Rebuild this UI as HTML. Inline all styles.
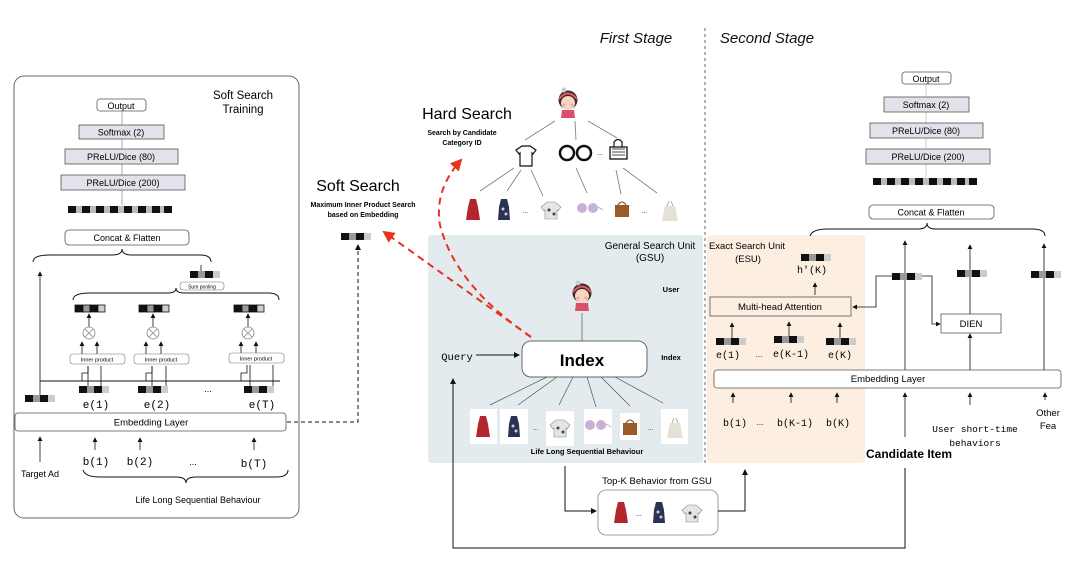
<!DOCTYPE html>
<html><head><meta charset="utf-8"><style>
html,body{margin:0;padding:0;background:#fff;}
svg{display:block;font-family:"Liberation Sans",sans-serif;}
.m{font-family:"Liberation Mono",monospace;}
</style></head><body>
<svg width="1080" height="570" viewBox="0 0 1080 570" xmlns="http://www.w3.org/2000/svg">
<defs>
<marker id="ah" markerWidth="6" markerHeight="6" refX="5" refY="3" orient="auto"><path d="M0,0 L6,3 L0,6 z" fill="#111"/></marker>
<marker id="ar" markerWidth="6" markerHeight="6" refX="5" refY="3" orient="auto"><path d="M0,0 L6,3 L0,6 z" fill="#e8321e"/></marker>
<g id="vec"><rect x="0" y="0" width="8" height="7" fill="#111"/><rect x="8" y="0" width="7" height="7" fill="#999"/><rect x="15" y="0" width="8" height="7" fill="#111"/><rect x="23" y="0" width="7" height="7" fill="#ccc"/></g>
<g id="lvec"><rect x="0" y="0" width="104" height="7" fill="#bbb"/><rect x="0" y="0" width="8" height="7" fill="#111"/><rect x="14" y="0" width="8" height="7" fill="#111"/><rect x="28" y="0" width="8" height="7" fill="#111"/><rect x="42" y="0" width="8" height="7" fill="#111"/><rect x="56" y="0" width="8" height="7" fill="#111"/><rect x="70" y="0" width="8" height="7" fill="#111"/><rect x="84" y="0" width="8" height="7" fill="#111"/><rect x="96" y="0" width="8" height="7" fill="#111"/></g>
<g id="girl"><circle cx="0" cy="-2" r="9.5" fill="#3b2a2a"/><circle cx="0" cy="1" r="7" fill="#f6d6c0"/><path d="M-9,-3 Q0,-14 9,-3" stroke="#e25a6a" stroke-width="2" fill="none"/><circle cx="-4" cy="-12" r="2.5" fill="#ccc"/><path d="M-7,16 L-6,8 L6,8 L7,16 z" fill="#d8506a"/><circle cx="-4" cy="3" r="1.5" fill="#f5a0a8"/><circle cx="4" cy="3" r="1.5" fill="#f5a0a8"/></g>
<g id="dress1"><path d="M-3,-10 L3,-10 L5,-2 L7,11 L-7,11 L-5,-2 z" fill="#b3262e"/></g>
<g id="dress2"><path d="M-3,-10 L3,-10 L5,-2 L6,11 L-6,11 L-5,-2 z" fill="#2a3355"/><circle cx="-1" cy="0" r="1.5" fill="#ccd"/><circle cx="2" cy="5" r="1.5" fill="#ccd"/></g>
<g id="shirt"><path d="M-4,-8 L4,-8 L10,-3 L7,1 L6,0 L6,9 L-6,9 L-6,0 L-7,1 L-10,-3 z" fill="#e4e6e0" stroke="#889" stroke-width="0.6"/><circle cx="-2" cy="0" r="1.5" fill="#345"/><circle cx="3" cy="4" r="1.5" fill="#345"/></g>
<g id="glass"><circle cx="-5" cy="0" r="5" fill="#c9b0d6"/><circle cx="6" cy="0" r="5" fill="#c9b0d6"/><path d="M11,-1 L16,2" stroke="#aaa"/></g>
<g id="bag"><rect x="-7" y="-4" width="14" height="12" fill="#9a5a2a"/><path d="M-4,-4 Q0,-10 4,-4" stroke="#6a3a1a" fill="none"/></g>
<g id="sack"><path d="M-5,-6 L5,-6 L8,9 L-8,9 z" fill="#e5e0d8"/><path d="M-3,-6 L-1,-11 M3,-6 L1,-11" stroke="#aaa"/></g>
</defs>

<text x="636" y="43" font-size="15" font-style="italic" text-anchor="middle" fill="#111">First Stage</text>
<text x="767" y="43" font-size="15" font-style="italic" text-anchor="middle" fill="#111">Second Stage</text>
<line x1="705" y1="28" x2="705" y2="464" stroke="#666" stroke-dasharray="3,3" stroke-width="1"/>

<!-- LEFT PANEL -->
<rect x="14" y="76" width="285" height="442" rx="10" fill="none" stroke="#666" stroke-width="1"/>
<text x="243" y="99" font-size="11.5" text-anchor="middle">Soft Search</text>
<text x="243" y="113" font-size="11.5" text-anchor="middle">Training</text>
<line x1="122" y1="110" x2="122" y2="205" stroke="#aaa"/>
<rect x="97" y="99" width="49" height="12" rx="3" fill="#fff" stroke="#555" stroke-width="0.8"/>
<text x="121" y="109" font-size="9" text-anchor="middle">Output</text>
<rect x="79" y="125" width="85" height="14" fill="#e2e2ea" stroke="#555" stroke-width="0.8"/>
<text x="121" y="135.5" font-size="9" text-anchor="middle">Softmax (2)</text>
<rect x="65" y="149" width="113" height="15" fill="#e2e2ea" stroke="#555" stroke-width="0.8"/>
<text x="121" y="160" font-size="9" text-anchor="middle">PReLU/Dice (80)</text>
<rect x="61" y="175" width="124" height="15" fill="#e2e2ea" stroke="#555" stroke-width="0.8"/>
<text x="123" y="186" font-size="9" text-anchor="middle">PReLU/Dice (200)</text>
<use href="#lvec" x="68" y="206"/>
<rect x="65" y="230" width="124" height="15" rx="4" fill="#fff" stroke="#555" stroke-width="0.8"/>
<text x="127" y="241" font-size="9" text-anchor="middle">Concat &amp; Flatten</text>
<path d="M33,262 Q33,255 50,255 L112,255 Q122,255 122,249 Q122,255 132,255 L200,255 Q211,255 211,262" fill="none" stroke="#111" stroke-width="1"/>
<line x1="40" y1="400" x2="40" y2="272" stroke="#111" stroke-width="0.8" marker-end="url(#ah)"/>
<use href="#vec" x="190" y="271"/>
<line x1="201" y1="271" x2="201" y2="265" stroke="#111" stroke-width="0.8"/>
<rect x="180" y="282" width="44" height="8" rx="3" fill="#fff" stroke="#777" stroke-width="0.6"/>
<text x="202" y="288.5" font-size="5" text-anchor="middle">Sum pooling</text>
<path d="M73,300 Q73,293 90,293 L168,293 Q176,293 176,288 Q176,293 184,293 L268,293 Q279,293 279,300" fill="none" stroke="#111" stroke-width="1"/>
<g stroke="#111" stroke-width="0.8" fill="none">
 <use href="#vec" x="75" y="305"/><use href="#vec" x="139" y="305"/><use href="#vec" x="234" y="305"/>
 <line x1="89" y1="327" x2="89" y2="314" marker-end="url(#ah)"/><line x1="153" y1="327" x2="153" y2="314" marker-end="url(#ah)"/><line x1="248" y1="327" x2="248" y2="314" marker-end="url(#ah)"/>
 <circle cx="89" cy="333" r="6" stroke="#888"/><path d="M85,329 L93,337 M93,329 L85,337" stroke="#888"/>
 <circle cx="153" cy="333" r="6" stroke="#888"/><path d="M149,329 L157,337 M157,329 L149,337" stroke="#888"/>
 <circle cx="248" cy="333" r="6" stroke="#888"/><path d="M244,329 L252,337 M252,329 L244,337" stroke="#888"/>
 <line x1="82" y1="354" x2="82" y2="342" marker-end="url(#ah)"/><line x1="97" y1="354" x2="97" y2="342" marker-end="url(#ah)"/>
 <line x1="146" y1="354" x2="146" y2="342" marker-end="url(#ah)"/><line x1="161" y1="354" x2="161" y2="342" marker-end="url(#ah)"/>
 <line x1="241" y1="354" x2="241" y2="342" marker-end="url(#ah)"/><line x1="256" y1="354" x2="256" y2="342" marker-end="url(#ah)"/>
</g>
<rect x="70" y="354" width="55" height="10" rx="3" fill="#fff" stroke="#777" stroke-width="0.6"/>
<rect x="134" y="354" width="55" height="10" rx="3" fill="#fff" stroke="#777" stroke-width="0.6"/>
<rect x="229" y="353" width="55" height="10" rx="3" fill="#fff" stroke="#777" stroke-width="0.6"/>
<text x="97" y="361.5" font-size="5.5" text-anchor="middle">Inner product</text>
<text x="161" y="361.5" font-size="5.5" text-anchor="middle">Inner product</text>
<text x="256" y="360.5" font-size="5.5" text-anchor="middle">Inner product</text>
<line x1="40" y1="381" x2="280" y2="381" stroke="#111" stroke-width="1"/>
<g stroke="#111" stroke-width="0.8" fill="none">
 <path d="M82,381 L82,373 L88,373 L88,366"/><line x1="88" y1="386" x2="88" y2="366"/><line x1="101" y1="386" x2="101" y2="366"/>
 <path d="M146,381 L146,373 L152,373 L152,366"/><line x1="152" y1="386" x2="152" y2="366"/><line x1="166" y1="386" x2="166" y2="366"/>
 <path d="M241,381 L241,373 L247,373 L247,365"/><line x1="250" y1="386" x2="250" y2="365"/><line x1="273" y1="386" x2="273" y2="365"/>
</g>
<use href="#vec" x="79" y="386"/><use href="#vec" x="138" y="386"/><use href="#vec" x="244" y="386"/>
<use href="#vec" x="25" y="395"/>
<text x="208" y="392" font-size="9" text-anchor="middle">...</text>
<text x="96" y="408" font-size="11" class="m" text-anchor="middle">e(1)</text>
<text x="157" y="408" font-size="11" class="m" text-anchor="middle">e(2)</text>
<text x="262" y="408" font-size="11" class="m" text-anchor="middle">e(T)</text>
<rect x="15" y="413" width="271" height="18" rx="3" fill="#fff" stroke="#555" stroke-width="0.8"/>
<text x="151" y="425.5" font-size="9.5" text-anchor="middle">Embedding Layer</text>
<g stroke="#111" stroke-width="0.8">
 <line x1="40" y1="462" x2="40" y2="437" marker-end="url(#ah)"/>
 <line x1="95" y1="450" x2="95" y2="438" marker-end="url(#ah)"/>
 <line x1="140" y1="450" x2="140" y2="438" marker-end="url(#ah)"/>
 <line x1="254" y1="450" x2="254" y2="438" marker-end="url(#ah)"/>
</g>
<text x="96" y="465" font-size="11" class="m" text-anchor="middle">b(1)</text>
<text x="140" y="465" font-size="11" class="m" text-anchor="middle">b(2)</text>
<text x="193" y="465" font-size="9" text-anchor="middle">...</text>
<text x="254" y="467" font-size="11" class="m" text-anchor="middle">b(T)</text>
<text x="40" y="477" font-size="9" text-anchor="middle">Target Ad</text>
<path d="M83,470 Q85,477 100,477 L176,477 Q186,477 186,483 Q186,477 196,477 L276,477 Q288,477 288,470" fill="none" stroke="#111" stroke-width="1"/>
<text x="198" y="503" font-size="9" text-anchor="middle">Life Long Sequential Behaviour</text>
<path d="M287,422 L358,422 L358,245" fill="none" stroke="#111" stroke-width="1" stroke-dasharray="4,3" marker-end="url(#ah)"/>

<!-- Soft search -->
<text x="358" y="191" font-size="16" text-anchor="middle">Soft Search</text>
<text x="363" y="207" font-size="7" font-weight="bold" text-anchor="middle">Maximum Inner Product Search</text>
<text x="363" y="217" font-size="7" font-weight="bold" text-anchor="middle">based on Embedding</text>
<use href="#vec" x="341" y="233"/>
<!-- Hard search -->
<text x="467" y="119" font-size="16" text-anchor="middle">Hard Search</text>
<text x="462" y="135" font-size="7" font-weight="bold" text-anchor="middle">Search by Candidate</text>
<text x="462" y="145" font-size="7" font-weight="bold" text-anchor="middle">Category ID</text>
<use href="#girl" x="568" y="102"/>
<g stroke="#777" stroke-width="0.8">
 <line x1="555" y1="121" x2="525" y2="140"/><line x1="575" y1="121" x2="576" y2="140"/><line x1="588" y1="121" x2="617" y2="138"/>
 <line x1="514" y1="168" x2="480" y2="191"/><line x1="521" y1="170" x2="507" y2="191"/><line x1="531" y1="170" x2="543" y2="196"/>
 <line x1="576" y1="168" x2="587" y2="193"/><line x1="616" y1="170" x2="621" y2="194"/><line x1="623" y1="168" x2="657" y2="193"/>
</g>
<path d="M522,146 L530,146 L536,150 L533,154 L532,153 L532,166 L520,166 L520,153 L519,154 L516,150 z" fill="#fff" stroke="#111" stroke-width="1.2"/>
<circle cx="567" cy="153" r="7" fill="none" stroke="#111" stroke-width="2.5"/><circle cx="584" cy="153" r="7" fill="none" stroke="#111" stroke-width="2.5"/>
<text x="597" y="155" font-size="7">...</text>
<rect x="610" y="147" width="17" height="12" fill="#fff" stroke="#111" stroke-width="1.3"/><path d="M612,149 L625,149 M612,152 L625,152 M612,155 L625,155" stroke="#111" stroke-width="0.8"/><path d="M614,147 L614,142 Q618,137 622,142 L622,147" fill="none" stroke="#111" stroke-width="1.2"/>
<use href="#dress1" x="473" y="209"/><use href="#dress2" x="504" y="209"/><text x="523" y="213" font-size="6">...</text><use href="#shirt" x="551" y="210"/>
<use href="#glass" x="587" y="208"/><use href="#bag" x="622" y="209"/><text x="642" y="213" font-size="6">...</text><use href="#sack" x="670" y="212"/>

<!-- GSU -->
<rect x="428" y="235" width="275" height="228" rx="3" fill="#e3ebee"/>
<text x="650" y="249" font-size="10" text-anchor="middle">General Search Unit</text>
<text x="650" y="261" font-size="10" text-anchor="middle">(GSU)</text>
<text x="671" y="292" font-size="7.5" font-weight="bold" text-anchor="middle">User</text>
<use href="#girl" x="582" y="295"/>
<line x1="582" y1="313" x2="582" y2="341" stroke="#666" stroke-width="0.8"/>
<rect x="522" y="341" width="125" height="36" rx="9" fill="#fff" stroke="#666" stroke-width="1"/>
<text x="582" y="366" font-size="17" font-weight="bold" text-anchor="middle">Index</text>
<text x="671" y="360" font-size="7.5" font-weight="bold" text-anchor="middle">Index</text>
<text x="457" y="360" font-size="10.5" class="m" text-anchor="middle">Query</text>
<line x1="476" y1="355" x2="519" y2="355" stroke="#111" stroke-width="1" marker-end="url(#ah)"/>
<g stroke="#555" stroke-width="0.7">
 <line x1="547" y1="377" x2="490" y2="405"/><line x1="557" y1="377" x2="518" y2="405"/><line x1="573" y1="377" x2="559" y2="405"/>
 <line x1="587" y1="377" x2="596" y2="407"/><line x1="601" y1="377" x2="630" y2="406"/><line x1="615" y1="377" x2="663" y2="403"/>
</g>
<rect x="470" y="409" width="27" height="35" fill="#fff"/><use href="#dress1" x="483" y="426"/>
<rect x="500" y="409" width="28" height="35" fill="#fff"/><use href="#dress2" x="514" y="426"/>
<text x="533" y="430" font-size="6">...</text>
<rect x="546" y="411" width="28" height="35" fill="#fff"/><use href="#shirt" x="560" y="428"/>
<rect x="584" y="409" width="28" height="35" fill="#fff"/><use href="#glass" x="595" y="425"/>
<rect x="620" y="413" width="20" height="27" fill="#fff"/><use href="#bag" x="630" y="427"/>
<text x="648" y="430" font-size="6">...</text>
<rect x="661" y="409" width="27" height="35" fill="#fff"/><use href="#sack" x="675" y="429"/>
<text x="587" y="454" font-size="7.5" font-weight="bold" text-anchor="middle">Life Long Sequential Behaviour</text>

<!-- red dashed -->
<path d="M531,337 Q455,285 440,225 Q434,190 461,160" fill="none" stroke="#e8321e" stroke-width="2" stroke-dasharray="7,5" marker-end="url(#ar)"/>
<path d="M531,337 L384,232" fill="none" stroke="#e8321e" stroke-width="2" stroke-dasharray="7,5" marker-end="url(#ar)"/>

<!-- ESU -->
<rect x="707" y="235" width="158" height="228" rx="3" fill="#fdeee2"/>
<text x="747" y="249" font-size="9.5" text-anchor="middle">Exact Search Unit</text>
<text x="748" y="262" font-size="9.5" text-anchor="middle">(ESU)</text>
<use href="#vec" x="801" y="254"/>
<text x="812" y="273" font-size="10" class="m" text-anchor="middle">h'(K)</text>
<line x1="815" y1="295" x2="815" y2="283" stroke="#111" stroke-width="0.8" marker-end="url(#ah)"/>
<rect x="710" y="297" width="141" height="19" fill="#fdeee2" stroke="#555" stroke-width="0.8"/>
<text x="780" y="310" font-size="9.5" text-anchor="middle">Multi-head Attention</text>
<use href="#vec" x="716" y="338"/><use href="#vec" x="774" y="336"/><use href="#vec" x="826" y="338"/>
<g stroke="#111" stroke-width="0.8">
 <line x1="732" y1="338" x2="732" y2="323" marker-end="url(#ah)"/><line x1="789" y1="336" x2="789" y2="322" marker-end="url(#ah)"/><line x1="840" y1="338" x2="840" y2="323" marker-end="url(#ah)"/>
</g>
<text x="728" y="358" font-size="10" class="m" text-anchor="middle">e(1)</text>
<text x="759" y="357" font-size="8" text-anchor="middle">...</text>
<text x="791" y="357" font-size="10" class="m" text-anchor="middle">e(K-1)</text>
<text x="840" y="358" font-size="10" class="m" text-anchor="middle">e(K)</text>
<rect x="714" y="370" width="347" height="18" rx="3" fill="#fff" stroke="#555" stroke-width="0.8"/>
<text x="888" y="382" font-size="9.5" text-anchor="middle">Embedding Layer</text>
<g stroke="#111" stroke-width="0.8">
 <line x1="733" y1="403" x2="733" y2="393" marker-end="url(#ah)"/><line x1="791" y1="403" x2="791" y2="393" marker-end="url(#ah)"/><line x1="837" y1="403" x2="837" y2="393" marker-end="url(#ah)"/>
 <line x1="905" y1="437" x2="905" y2="393" marker-end="url(#ah)"/><line x1="970" y1="405" x2="970" y2="393" marker-end="url(#ah)"/><line x1="1045" y1="400" x2="1045" y2="393" marker-end="url(#ah)"/>
</g>
<text x="735" y="426" font-size="10" class="m" text-anchor="middle">b(1)</text>
<text x="760" y="425" font-size="8" text-anchor="middle">...</text>
<text x="795" y="426" font-size="10" class="m" text-anchor="middle">b(K-1)</text>
<text x="838" y="426" font-size="10" class="m" text-anchor="middle">b(K)</text>
<text x="975" y="432" font-size="9.5" class="m" text-anchor="middle">User short-time</text>
<text x="975" y="446" font-size="9.5" class="m" text-anchor="middle">behaviors</text>
<text x="1048" y="416" font-size="9.5" text-anchor="middle">Other</text>
<text x="1048" y="429" font-size="9.5" text-anchor="middle">Fea</text>
<text x="909" y="458" font-size="12" font-weight="bold" text-anchor="middle">Candidate Item</text>

<!-- right tower -->
<line x1="926" y1="84" x2="926" y2="178" stroke="#ccc"/>
<rect x="902" y="72" width="49" height="12" rx="3" fill="#fff" stroke="#555" stroke-width="0.8"/>
<text x="926" y="82" font-size="9" text-anchor="middle">Output</text>
<rect x="884" y="97" width="85" height="15" fill="#e2e2ea" stroke="#555" stroke-width="0.8"/>
<text x="926" y="108" font-size="9" text-anchor="middle">Softmax (2)</text>
<rect x="870" y="123" width="113" height="15" fill="#e2e2ea" stroke="#555" stroke-width="0.8"/>
<text x="926" y="134" font-size="9" text-anchor="middle">PReLU/Dice (80)</text>
<rect x="866" y="149" width="124" height="15" fill="#e2e2ea" stroke="#555" stroke-width="0.8"/>
<text x="928" y="160" font-size="9" text-anchor="middle">PReLU/Dice (200)</text>
<use href="#lvec" x="873" y="178"/>
<rect x="869" y="205" width="125" height="14" rx="4" fill="#fff" stroke="#555" stroke-width="0.8"/>
<text x="931" y="215.5" font-size="9" text-anchor="middle">Concat &amp; Flatten</text>
<path d="M810,236 Q812,229 828,229 L918,229 Q927,229 927,223 Q927,229 936,229 L1032,229 Q1045,229 1045,236" fill="none" stroke="#111" stroke-width="1"/>
<g stroke="#111" stroke-width="0.8" fill="none">
 <line x1="905" y1="370" x2="905" y2="241" marker-end="url(#ah)"/>
 <line x1="970" y1="370" x2="970" y2="334" marker-end="url(#ah)"/>
 <line x1="970" y1="314" x2="970" y2="245" marker-end="url(#ah)"/>
 <line x1="1044" y1="370" x2="1044" y2="244" marker-end="url(#ah)"/>
 <path d="M893,276 L876,276 L876,307 L853,307" marker-end="url(#ah)"/>
 <path d="M921,276 L932,276 L932,324 L940,324" marker-end="url(#ah)"/>
</g>
<use href="#vec" x="892" y="273"/><use href="#vec" x="957" y="270"/><use href="#vec" x="1031" y="271"/>
<rect x="941" y="314" width="60" height="19" fill="#fff" stroke="#555" stroke-width="0.8"/>
<text x="971" y="327" font-size="9.5" text-anchor="middle">DIEN</text>

<!-- Bottom flows -->
<path d="M565,466 L565,511 L596,511" fill="none" stroke="#111" stroke-width="1" marker-end="url(#ah)"/>
<text x="657" y="484" font-size="9.5" text-anchor="middle">Top-K Behavior from GSU</text>
<rect x="598" y="490" width="120" height="45" rx="8" fill="#fff" stroke="#888" stroke-width="0.8"/>
<use href="#dress1" x="621" y="512"/><text x="636" y="516" font-size="7">...</text><use href="#dress2" x="659" y="512"/><use href="#shirt" x="692" y="513"/>
<path d="M718,511 L745,511 L745,470" fill="none" stroke="#111" stroke-width="1" marker-end="url(#ah)"/>
<path d="M905,468 L905,548 L453,548 L453,379" fill="none" stroke="#111" stroke-width="1" marker-end="url(#ah)"/>
</svg>
</body></html>
